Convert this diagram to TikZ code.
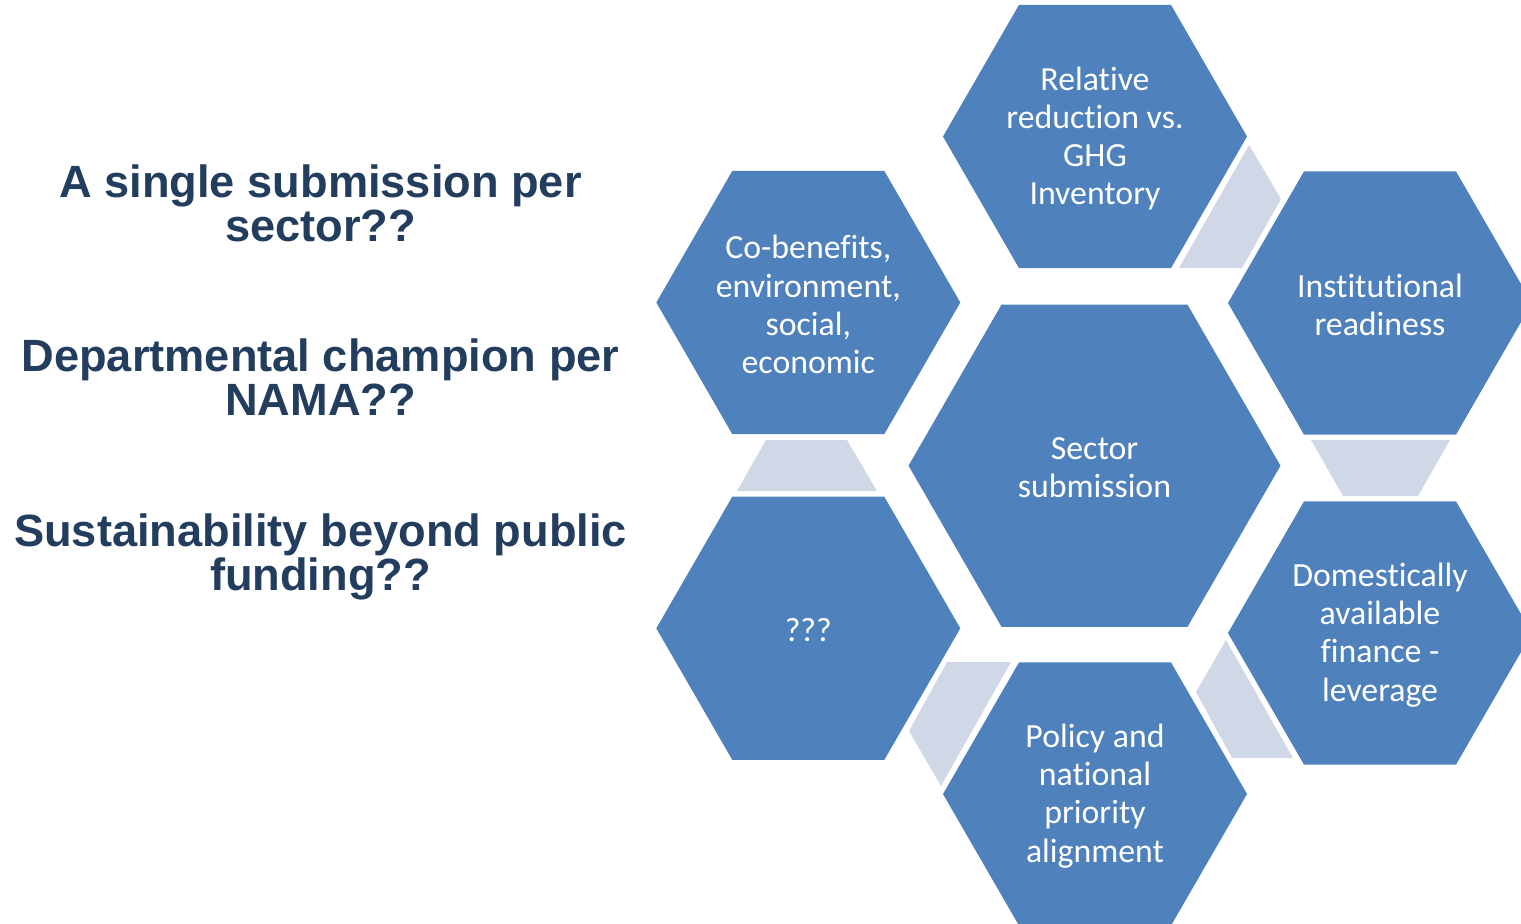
\documentclass[tikz,border=0pt]{standalone}
\usepackage{fontspec}
\setmainfont{Carlito}[Ligatures={NoCommon,NoContextual}]
\newfontfamily\headfont{Liberation Sans}
\usepackage{tikz}
\definecolor{hexblue}{RGB}{79,129,189}
\definecolor{linkgray}{RGB}{208,216,232}
\definecolor{navy}{RGB}{35,61,94}
\newcommand{\hexa}[4]{%
  \fill[hexblue] (#2) +(0:#3) -- +(60:#3) -- +(120:#3) -- +(180:#3) -- +(240:#3) -- +(300:#3) -- cycle;
  \node[hextext] (#1) at ([yshift=-1pt]#2) {#4};}

\begin{document}
\begin{tikzpicture}[x=0.5pt,y=-0.5pt,
  hextext/.style={text=white,align=center,font=\fontsize{16.9}{19.1}\selectfont},
  question/.style={text=navy,align=center,inner sep=0pt,font=\headfont\bfseries\fontsize{22.6}{22}\selectfont},
  link/.style={fill=linkgray}]
\useasboundingbox (0,0) rectangle (1521,923);
\clip (0,0) rectangle (1521,923);
% questions on the left
\node[question] (single) at (320.5,203) {A single submission per\\sector??};
\node[question] (champion) at (320.5,377) {Departmental champion per\\NAMA??};
\node[question] (funding) at (320.5,557) {Sustainability beyond public\\funding??};
% hexagon cluster
\hexa{sector}{1094.5,465.7}{186}{Sector\\submission}
\hexa{relative}{1095,136.5}{152}{Relative\\reduction vs.\\GHG\\Inventory}
\hexa{institution}{1380,303}{152}{Institutional\\readiness}
\hexa{finance}{1380,633}{152}{Domestically\\available\\finance -\\leverage}
\hexa{policy}{1095,794}{152}{Policy and\\national\\priority\\alignment}
\hexa{unknown}{808.3,628.3}{152}{???}
\hexa{cobenefit}{808.3,302.5}{152}{Co-benefits,\\environment,\\social,\\economic}
% links between the outer hexagons
\fill[link] (1179,268) -- (1242,268) -- (1281,199) -- (1249,145) -- cycle;
\fill[link] (1311,440) -- (1450,440) -- (1418,496) -- (1343,496) -- cycle;
\fill[link] (1226,640) -- (1293,758) -- (1232,758) -- (1196,692) -- cycle;
\fill[link] (947,662) -- (1011,662) -- (941,786) -- (909,731) -- cycle;
\fill[link] (766,440) -- (847,440) -- (877,491) -- (737,491) -- cycle;
\end{tikzpicture}
\end{document}
